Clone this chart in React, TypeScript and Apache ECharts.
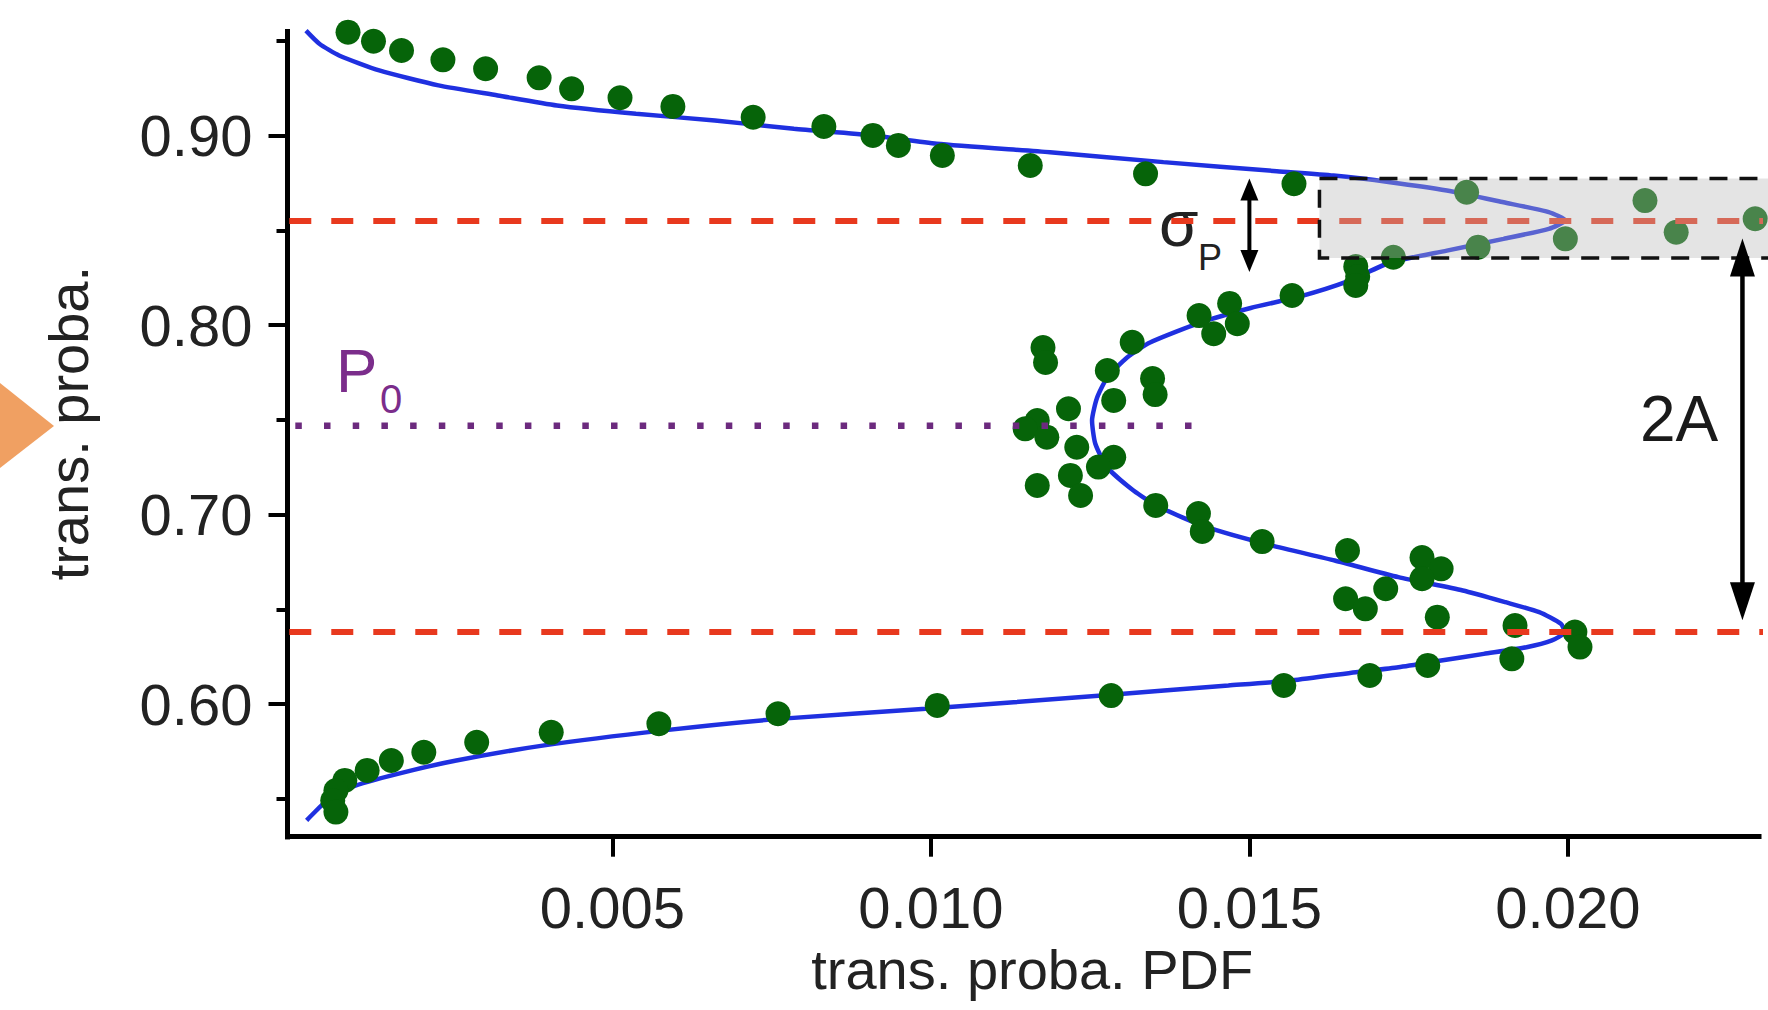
import React, { useEffect, useRef } from "react";
import * as echarts from "echarts";

const FONT = "'Liberation Sans', Arial, Helvetica, sans-serif";

// Fitted PDF of the transmission probability: [pdf, trans. proba.], in drawing order
const fitCurve: [number, number][] = [
  [0.00019, 0.9555], [0.0004, 0.9486], [0.00071, 0.9424], [0.00134, 0.9345],
  [0.00227, 0.9266], [0.0032, 0.9213], [0.00413, 0.916], [0.00537, 0.9116],
  [0.00661, 0.9081], [0.00785, 0.9037], [0.00909, 0.9002], [0.01009, 0.8958],
  [0.01187, 0.8913], [0.01365, 0.8861], [0.01543, 0.8813], [0.01632, 0.879],
  [0.01721, 0.8755], [0.0181, 0.8711], [0.01899, 0.8649], [0.0197, 0.8597],
  [0.01996, 0.8553], [0.0197, 0.8509], [0.01899, 0.8456], [0.0181, 0.8394],
  [0.01721, 0.8331], [0.01654, 0.8231], [0.0158, 0.8152], [0.01502, 0.8091],
  [0.01423, 0.8014], [0.01344, 0.7909], [0.01308, 0.783], [0.01277, 0.7724],
  [0.01261, 0.7618], [0.01253, 0.7497], [0.01258, 0.7376], [0.01277, 0.7249],
  [0.01318, 0.7128], [0.01357, 0.7043], [0.01433, 0.6934], [0.01534, 0.6838],
  [0.01634, 0.6758], [0.01734, 0.667], [0.01835, 0.66], [0.01902, 0.6538],
  [0.01955, 0.6485], [0.01989, 0.6424], [0.01995, 0.638], [0.01975, 0.6336],
  [0.01935, 0.63], [0.01868, 0.6265], [0.01801, 0.623], [0.01734, 0.6195],
  [0.01667, 0.6168], [0.01567, 0.6125], [0.01467, 0.6098], [0.01366, 0.6072],
  [0.01268, 0.6045], [0.00992, 0.5975], [0.00762, 0.5922], [0.00577, 0.586],
  [0.00393, 0.5782], [0.00255, 0.5702], [0.00163, 0.5632], [0.00089, 0.5561],
  [0.00052, 0.5491], [0.0002, 0.5386],
];

// Measured histogram of the transmission probability: [pdf, trans. proba.]
const measured: [number, number][] = [
  [0.00085, 0.9547], [0.00125, 0.9499], [0.00169, 0.945], [0.00234, 0.9401],
  [0.00301, 0.9354], [0.00385, 0.9306], [0.00436, 0.9248], [0.00512, 0.9201],
  [0.00595, 0.9155], [0.00721, 0.9098], [0.00832, 0.9049], [0.00909, 0.9002],
  [0.00949, 0.8949], [0.01018, 0.8896], [0.01156, 0.8843], [0.01337, 0.8799],
  [0.0157, 0.8747], [0.01841, 0.8702], [0.02121, 0.8658], [0.02294, 0.8562],
  [0.0217, 0.8491], [0.01996, 0.8456], [0.01859, 0.8412], [0.01726, 0.8359],
  [0.01667, 0.831], [0.0167, 0.8257], [0.01667, 0.821], [0.01567, 0.8157],
  [0.01469, 0.8115], [0.01421, 0.8051], [0.01481, 0.8008], [0.01444, 0.7955],
  [0.01316, 0.791], [0.01176, 0.7882], [0.0118, 0.7803], [0.01277, 0.7761],
  [0.01348, 0.7719], [0.01352, 0.7634], [0.01287, 0.7603], [0.01216, 0.7559],
  [0.01167, 0.7497], [0.01148, 0.7453], [0.01182, 0.7409], [0.01229, 0.7356],
  [0.01287, 0.7303], [0.01263, 0.7251], [0.01219, 0.7207], [0.01167, 0.7154],
  [0.01235, 0.7101], [0.01353, 0.7049], [0.0142, 0.7006], [0.01426, 0.6911],
  [0.0152, 0.6858], [0.01654, 0.6811], [0.01771, 0.6774], [0.01801, 0.6714],
  [0.01771, 0.6662], [0.01714, 0.6609], [0.01651, 0.6556], [0.01682, 0.6503],
  [0.01795, 0.6459], [0.01917, 0.6415], [0.02011, 0.638], [0.02019, 0.6301],
  [0.01912, 0.6239], [0.0178, 0.6204], [0.01689, 0.6151], [0.01554, 0.6098],
  [0.01283, 0.6045], [0.0101, 0.5993], [0.0076, 0.5949], [0.00573, 0.5896],
  [0.00404, 0.5851], [0.00287, 0.5798], [0.00204, 0.5746], [0.00153, 0.5702],
  [0.00115, 0.565], [0.0008, 0.5597], [0.00066, 0.5544], [0.00061, 0.5491],
  [0.00066, 0.543],
];

// Axis ranges and tick positions
const xRange: [number, number] = [-0.0001, 0.023];
const yRange: [number, number] = [0.53, 0.955];
const xTicks = [0.005, 0.01, 0.015, 0.02];
const yMajorTicks = [0.6, 0.7, 0.8, 0.9];
const yMinorTicks = [0.55, 0.65, 0.75, 0.85, 0.95];

// Fit parameters drawn as guides
const p0Level = 0.747;
const upperPeak = 0.855;
const lowerPeak = 0.638;
// Guide lines reach out past the vertical axis
const guideStart = -0.00205;
const guideEnd = 0.0236;
const p0Start = -0.00223;
const p0End = 0.01439;

// Shaded band around the upper peak: [pdf from, proba low, pdf to, proba high]
const sigmaBand: [number, number, number, number][] = [[0.0161, 0.8355, 0.0245, 0.8775]];

// Double arrows: [pdf, top tip, bottom tip]
const sigmaArrow: [number, number, number][] = [[0.015, 0.8774, 0.8281]];
const amplitudeArrow: [number, number, number][] = [[0.02274, 0.8458, 0.6442]];

function arrowRenderer(headW: number, headH: number, width: number) {
  return (_params: any, api: any) => {
    const x = api.value(0);
    const top = api.coord([x, api.value(1)]);
    const bot = api.coord([x, api.value(2)]);
    return {
      type: "group",
      children: [
        {
          type: "line",
          shape: { x1: top[0], y1: top[1] + headH * 0.8, x2: bot[0], y2: bot[1] - headH * 0.8 },
          style: { stroke: "#000", lineWidth: width },
        },
        {
          type: "polygon",
          shape: { points: [[top[0], top[1]], [top[0] - headW / 2, top[1] + headH], [top[0] + headW / 2, top[1] + headH]] },
          style: { fill: "#000" },
        },
        {
          type: "polygon",
          shape: { points: [[bot[0], bot[1]], [bot[0] - headW / 2, bot[1] - headH], [bot[0] + headW / 2, bot[1] - headH]] },
          style: { fill: "#000" },
        },
      ],
    };
  };
}

export default function App() {
  const ref = useRef<HTMLDivElement>(null);

  useEffect(() => {
    if (!ref.current) return;
    const chart = echarts.init(ref.current, null, { renderer: "svg" });

    const axisText = { fontSize: 58, color: "#222", fontFamily: FONT };
    const axisLine = { show: true, onZero: false, lineStyle: { color: "#000", width: 5, cap: "square" } };

    chart.setOption({
      animation: false,
      backgroundColor: "#fff",
      grid: {
        left: 287.5,
        right: 9,
        top: 31.6,
        bottom: 173.3,
        containLabel: false,
        outerBoundsMode: "none",
      },
      xAxis: {
        type: "value",
        min: xRange[0],
        max: xRange[1],
        axisLine,
        axisTick: { show: true, length: 20, customValues: xTicks, lineStyle: { color: "#000", width: 4 } },
        axisLabel: {
          ...axisText,
          customValues: xTicks,
          margin: 42,
          formatter: (v: number) => v.toFixed(3),
        },
        splitLine: { show: false },
        name: "trans. proba. PDF",
        nameLocation: "middle",
        nameGap: 102,
        nameTextStyle: { fontSize: 56, color: "#222", fontFamily: FONT, padding: [0, 0, 0, 18] },
      },
      yAxis: [
        {
          type: "value",
          min: yRange[0],
          max: yRange[1],
          axisLine,
          axisTick: { show: true, length: 19, customValues: yMajorTicks, lineStyle: { color: "#000", width: 4 } },
          axisLabel: {
            ...axisText,
            customValues: yMajorTicks,
            margin: 35,
            formatter: (v: number) => v.toFixed(2),
          },
          splitLine: { show: false },
          name: "trans. proba.",
          nameLocation: "middle",
          nameGap: 191,
          nameTextStyle: { fontSize: 56, color: "#222", fontFamily: FONT, padding: [0, 0, 0, 22] },
        },
        {
          type: "value",
          min: yRange[0],
          max: yRange[1],
          position: "left",
          offset: 0,
          axisLine,
          axisTick: { show: true, length: 11, customValues: yMinorTicks, lineStyle: { color: "#000", width: 4 } },
          axisLabel: { show: false },
          splitLine: { show: false },
        },
      ],
      series: [
        {
          name: "fit",
          type: "line",
          data: fitCurve,
          symbol: "none",
          smooth: 0.2,
          clip: false,
          z: 2,
          lineStyle: { color: "#1f30e0", width: 4.5 },
        },
        {
          name: "measured",
          type: "scatter",
          data: measured,
          symbol: "circle",
          symbolSize: 25,
          z: 3,
          itemStyle: { color: "#066409", opacity: 1 },
        },
        {
          name: "P0",
          type: "line",
          data: [[p0Start, p0Level], [p0End, p0Level]],
          symbol: "none",
          clip: false,
          z: 4,
          lineStyle: { color: "#6c2a7e", width: 6.5, type: [6.5, 22.2], cap: "butt" },
        },
        {
          name: "upper peak",
          type: "line",
          data: [[guideStart, upperPeak], [guideEnd, upperPeak]],
          symbol: "none",
          clip: false,
          z: 4,
          lineStyle: { color: "#e8391e", width: 6, type: [22, 20] },
        },
        {
          name: "lower peak",
          type: "line",
          data: [[guideStart, lowerPeak], [guideEnd, lowerPeak]],
          symbol: "none",
          clip: false,
          z: 4,
          lineStyle: { color: "#e8391e", width: 6, type: [22, 20] },
        },
        {
          name: "sigma band",
          type: "custom",
          data: sigmaBand,
          clip: false,
          z: 5,
          encode: { x: [0, 2], y: [1, 3] },
          renderItem: (_params: any, api: any) => {
            const a = api.coord([api.value(0), api.value(3)]);
            const b = api.coord([api.value(2), api.value(1)]);
            return {
              type: "rect",
              shape: { x: a[0], y: a[1], width: b[0] - a[0], height: b[1] - a[1] },
              style: {
                fill: "rgba(185,185,185,0.38)",
                stroke: "#111",
                lineWidth: 3.5,
                lineDash: [18, 12],
              },
            };
          },
        },
        {
          name: "sigma arrow",
          type: "custom",
          data: sigmaArrow,
          clip: false,
          z: 6,
          encode: { x: 0, y: [1, 2] },
          renderItem: arrowRenderer(18, 22, 4),
        },
        {
          name: "amplitude arrow",
          type: "custom",
          data: amplitudeArrow,
          clip: false,
          z: 6,
          encode: { x: 0, y: [1, 2] },
          renderItem: arrowRenderer(25, 38, 4.5),
        },
      ],
      graphic: [
        {
          type: "polygon",
          shape: { points: [[0, 383], [54, 426], [0, 468]] },
          style: { fill: "#f0a062" },
        },
        {
          type: "text",
          x: 336,
          y: 370,
          style: { text: "P", fontSize: 62, fontFamily: FONT, fill: "#7b2d8b", align: "left", verticalAlign: "middle" },
        },
        {
          type: "text",
          x: 380,
          y: 399,
          style: { text: "0", fontSize: 40, fontFamily: FONT, fill: "#7b2d8b", align: "left", verticalAlign: "middle" },
        },
        {
          type: "text",
          x: 1159,
          y: 224,
          style: { text: "σ", fontSize: 64, fontFamily: FONT, fill: "#222", align: "left", verticalAlign: "middle" },
        },
        {
          type: "text",
          x: 1198,
          y: 257.5,
          style: { text: "P", fontSize: 36, fontFamily: FONT, fill: "#222", align: "left", verticalAlign: "middle" },
        },
        {
          type: "text",
          x: 1640,
          y: 418.5,
          style: { text: "2A", fontSize: 64, fontFamily: FONT, fill: "#1a1a1a", align: "left", verticalAlign: "middle" },
        },
      ],
    });

    return () => chart.dispose();
  }, []);

  return (
    <div
      ref={ref}
      style={{ position: "absolute", left: 0, top: 0, width: 1768, height: 1010, background: "#fff" }}
    />
  );
}
